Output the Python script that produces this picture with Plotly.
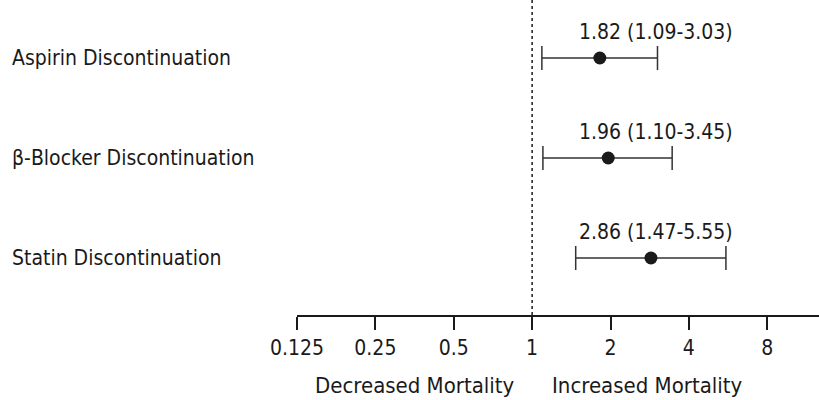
import plotly.graph_objects as go
import math

categories = ["Aspirin Discontinuation", "β-Blocker Discontinuation", "Statin Discontinuation"]
hr = [1.82, 1.96, 2.86]
ci_low = [1.09, 1.10, 1.47]
ci_high = [3.03, 3.45, 5.55]
ypos = [3, 2, 1]
tick_vals = [0.125, 0.25, 0.5, 1, 2, 4, 8]
tick_text = ["0.125", "0.25", "0.5", "1", "2", "4", "8"]

FONT = "Liberation Sans Narrow, DejaVu Sans Condensed, Arial Narrow, sans-serif"
INK = "#1a1a1a"

fig = go.Figure()
fig.add_trace(go.Scatter(
    x=hr, y=ypos, mode="markers",
    marker=dict(size=13, color=INK),
    error_x=dict(type="data", symmetric=False,
                 array=[hi - h for hi, h in zip(ci_high, hr)],
                 arrayminus=[h - lo for h, lo in zip(hr, ci_low)],
                 color="#333333", thickness=1.5, width=12),
    showlegend=False, hoverinfo="skip"))

annotations = []
for c, y, h, lo, hi in zip(categories, ypos, hr, ci_low, ci_high):
    annotations.append(dict(x=-0.5495, xref="paper", y=y, yref="y", text=c,
                            xanchor="left", yanchor="middle", showarrow=False,
                            font=dict(family=FONT, size=21, color=INK)))
    annotations.append(dict(x=0, xref="x", y=y, yref="y", text=f"{h:.2f} ({lo:.2f}-{hi:.2f})",
                            xanchor="left", yanchor="middle", showarrow=False, xshift=45, yshift=26,
                            font=dict(family=FONT, size=21, color=INK)))
annotations.append(dict(x=0, xref="x", y=-0.225, yref="paper", text="Decreased Mortality",
                        xanchor="right", yanchor="middle", showarrow=False, xshift=-15,
                        font=dict(family=FONT, size=22, color=INK)))
annotations.append(dict(x=0, xref="x", y=-0.225, yref="paper", text="Increased Mortality",
                        xanchor="left", yanchor="middle", showarrow=False, xshift=18,
                        font=dict(family=FONT, size=22, color=INK)))

fig.add_shape(type="line", x0=1, x1=1, xref="x", y0=0, y1=1, yref="paper",
              line=dict(color=INK, width=1.5, dash="dot"))

fig.update_layout(
    width=819, height=400,
    margin=dict(l=297, r=0, t=0, b=85),
    paper_bgcolor="white", plot_bgcolor="white",
    annotations=annotations,
    xaxis=dict(type="log", range=[math.log10(0.125), math.log10(2 ** 3.66)],
               tickvals=tick_vals, ticktext=tick_text, showgrid=False, zeroline=False,
               showline=True, linecolor=INK, linewidth=1.5,
               ticks="outside", ticklen=13, tickwidth=1.5, tickcolor=INK,
               tickfont=dict(family=FONT, size=21, color=INK)),
    yaxis=dict(range=[0.43, 3.58], showgrid=False, zeroline=False, showticklabels=False,
               showline=False, ticks=""),
)

fig.write_html("out.html", config={"displayModeBar": False},
               post_script="document.body.style.margin='0';document.body.style.overflow='hidden';")
